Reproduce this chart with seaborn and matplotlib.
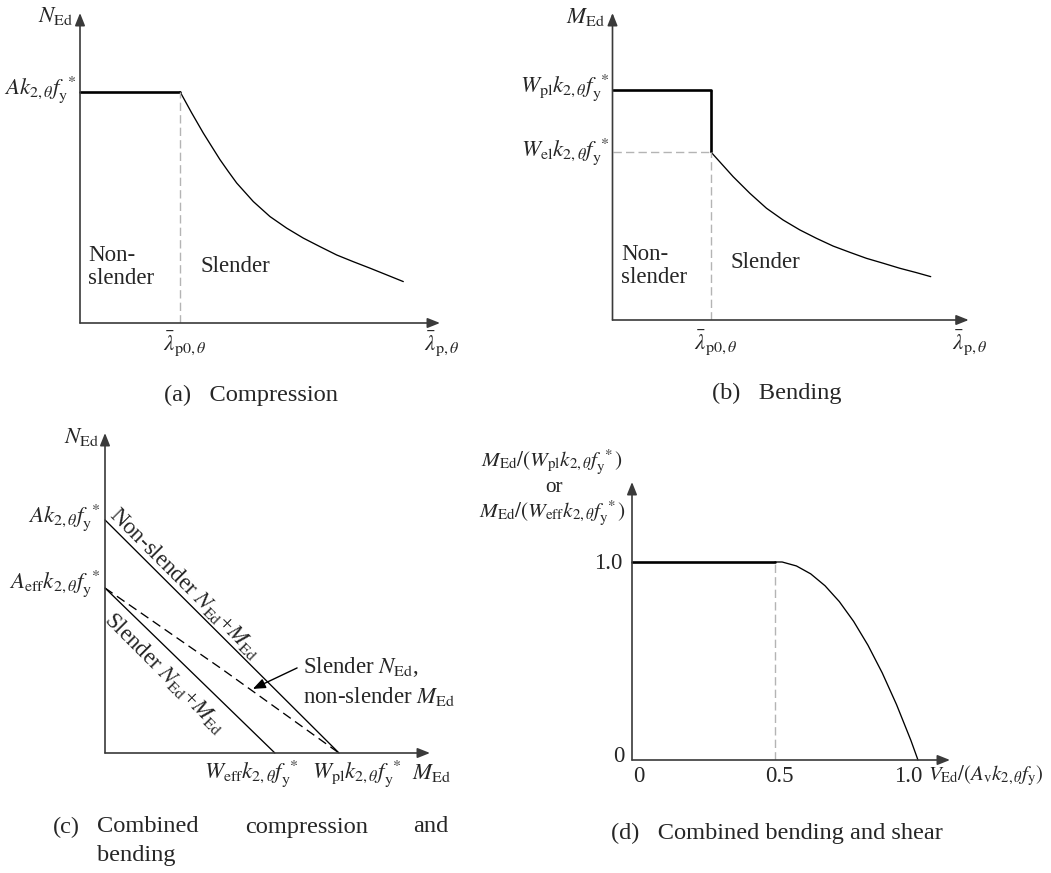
import matplotlib.pyplot as plt
import seaborn as sns

# --- values ---
# (a) compression: plateau up to lambda_p0, then slender curve
a_lam0 = 1.0
a_plateau = 1.0
a_curve_x = [1.0, 1.117, 1.233, 1.317, 1.40, 1.483, 1.567, 1.733, 1.90, 2.067,
             2.233, 2.40, 2.567, 2.733, 2.90, 3.067, 3.233]
a_curve_y = [1.0, 0.908, 0.821, 0.763, 0.706, 0.655, 0.605, 0.525, 0.460, 0.410,
             0.367, 0.330, 0.294, 0.265, 0.237, 0.208, 0.179]

# (b) bending: Wpl plateau, drop to Wel, then slender curve
b_lam0 = 1.0
b_wpl = 1.369
b_wel = 1.0
b_curve_x = [1.0, 1.226, 1.396, 1.565, 1.734, 1.904, 2.073, 2.242, 2.411, 2.581,
             2.750, 2.919, 3.088, 3.234]
b_curve_y = [1.0, 0.853, 0.754, 0.665, 0.595, 0.536, 0.486, 0.440, 0.403, 0.367,
             0.338, 0.308, 0.282, 0.258]

# (c) interaction lines (M axis, N axis)
c_full_m = [0.0, 1.0]
c_full_n = [1.0, 0.0]
c_slender_m = [0.0, 0.726]
c_slender_n = [0.708, 0.0]
c_mixed_m = [0.0, 0.5, 1.0]
c_mixed_n = [0.708, 0.36, 0.0]

# (d) bending + shear
d_v0 = 0.5
d_plateau = 1.0
d_curve_v = [0.5, 0.525, 0.55, 0.575, 0.6, 0.625, 0.65, 0.675, 0.7, 0.725, 0.75,
             0.775, 0.8, 0.825, 0.85, 0.875, 0.9, 0.925, 0.95, 0.975, 1.0]
d_curve_m = [1.0, 1.0, 0.99, 0.98, 0.96, 0.94, 0.91, 0.88, 0.84, 0.80, 0.75,
             0.70, 0.64, 0.58, 0.51, 0.44, 0.36, 0.28, 0.19, 0.10, 0.0]
d_xticks = [0, 0.5, 1.0]
d_xticklabels = ['0', '0.5', '1.0']
d_xtick_dx = [7, 4, -10]
d_yticks = [0, 1.0]
d_yticklabels = ['0', '1.0']

sns.set_theme(style="white")
plt.rcParams['font.family'] = ['Liberation Serif', 'DejaVu Serif']
plt.rcParams['mathtext.fontset'] = 'stix'
plt.rcParams['font.size'] = 16.5

W, H = 1051, 873
fig = plt.figure(figsize=(W / 100, H / 100), dpi=100)
fig.patch.set_facecolor('white')

THICK = 1.9
THIN = 0.95
GREY = '#b4b4b4'
AXC = '#3a3a3a'
CAP = 17.6
ARR = dict(arrowstyle='-|>,head_length=0.75,head_width=0.3', mutation_scale=10,
           shrinkA=0, shrinkB=0)


def ftext(x, y, s, **kw):
    fig.text(x / W, 1 - y / H, s, va='center', **kw)


def panel(ox, oy, x_end, y_top, xmax, ymax):
    ax = fig.add_axes([ox / W, 1 - oy / H, (x_end - ox) / W, (oy - y_top) / H])
    ax.set_xlim(0, xmax)
    ax.set_ylim(0, ymax)
    ax.axis('off')
    arr = dict(ARR, color=AXC, lw=1.2)
    ax.annotate('', xy=(xmax, 0), xytext=(0, 0), arrowprops=arr, annotation_clip=False)
    ax.annotate('', xy=(0, ymax), xytext=(0, 0), arrowprops=arr, annotation_clip=False)
    return ax


def label(ax, s, xy, dx, dy, ha='center', **kw):
    ax.annotate(s, xy=xy, xytext=(dx, dy), textcoords='offset pixels',
                ha=ha, va='center', annotation_clip=False, **kw)


def line(ax, x, y, lw, **kw):
    sns.lineplot(x=x, y=y, ax=ax, color='black', linewidth=lw,
                 estimator=None, sort=False, clip_on=False, **kw)


K = r'k_{2,\theta}'
FY = r'f_{\mathrm{y}}^{\ *}'
LAM0 = r'$\bar{\lambda}_{\mathrm{p0},\theta}$'
LAM = r'$\bar{\lambda}_{\mathrm{p},\theta}$'
DASH = (0, (6, 3))

# ---------------- (a) Compression ----------------
ax = panel(80, 323, 440, 13, 3.6, 1.34)
line(ax, [0, a_lam0], [a_plateau, a_plateau], THICK)
line(ax, a_curve_x, a_curve_y, THIN)
ax.vlines(a_lam0, 0, a_plateau, colors=GREY, linestyles=DASH, lw=1.0)
label(ax, r'$N_{\mathrm{Ed}}$', (0, 1.34), -7, -3, ha='right')
label(ax, r'$A' + K + FY + '$', (0, a_plateau), -4, 3, ha='right')
label(ax, LAM0, (a_lam0, 0), 5, -21)
label(ax, LAM, (3.6, 0), 2, -21)
ftext(88, 267, 'Non-\nslender', ha='left', linespacing=1.1)
ftext(200, 267, 'Slender', ha='left')
ftext(251, 395, '(a)   Compression', ha='center', fontsize=CAP)

# ---------------- (b) Bending ----------------
ax = panel(612.5, 320, 968.7, 13, 3.62, 1.827)
line(ax, [0, b_lam0], [b_wpl, b_wpl], THICK)
ax.vlines(b_lam0, b_wel, b_wpl, colors='black', lw=THICK)
line(ax, b_curve_x, b_curve_y, THIN)
ax.vlines(b_lam0, 0, b_wel, colors=GREY, linestyles=DASH, lw=1.0)
ax.hlines(b_wel, 0, b_lam0, colors=GREY, linestyles=DASH, lw=1.0)
label(ax, r'$M_{\mathrm{Ed}}$', (0, 1.827), -8, -4, ha='right')
label(ax, r'$W_{\mathrm{pl}}' + K + FY + '$', (0, b_wpl), -3, 3, ha='right')
label(ax, r'$W_{\mathrm{el}}' + K + FY + '$', (0, b_wel), -3, 1, ha='right')
label(ax, LAM0, (b_lam0, 0), 5, -23)
label(ax, LAM, (3.62, 0), 1, -23)
ftext(621, 266, 'Non-\nslender', ha='left', linespacing=1.1)
ftext(730, 263, 'Slender', ha='left')
ftext(777, 393, '(b)   Bending', ha='center', fontsize=CAP)

# ---------------- (c) Combined compression and bending ----------------
ax = panel(105, 753, 430, 433, 1.389, 1.373)
line(ax, c_full_m, c_full_n, THIN)
line(ax, c_slender_m, c_slender_n, THIN)
line(ax, c_mixed_m, c_mixed_n, THIN, linestyle=(0, (7, 4)))
label(ax, r'$N_{\mathrm{Ed}}$', (0, 1.373), -6, -4, ha='right')
label(ax, r'$A' + K + FY + '$', (0, c_full_n[0]), -5, 3, ha='right')
label(ax, r'$A_{\mathrm{eff}}' + K + FY + '$', (0, c_slender_n[0]), -5, 5, ha='right')
label(ax, r'$W_{\mathrm{eff}}' + K + FY + '$', (c_slender_m[1], 0), -23, -20)
label(ax, r'$W_{\mathrm{pl}}' + K + FY + '$', (c_full_m[1], 0), 18, -20)
label(ax, r'$M_{\mathrm{Ed}}$', (1.389, 0), 1, -20)
ax.text(0.342, 0.73, r'Non-slender $N_{\mathrm{Ed}}$+$M_{\mathrm{Ed}}$', rotation=-45,
        ha='center', va='center')
ax.text(0.256, 0.343, r'Slender $N_{\mathrm{Ed}}$+$M_{\mathrm{Ed}}$', rotation=-45,
        ha='center', va='center')
ax.annotate('', xy=(0.632, 0.275), xytext=(0.821, 0.365),
            arrowprops=dict(ARR, color='black', lw=1.0))
ftext(303, 667, r'Slender $N_{\mathrm{Ed}}$,', ha='left')
ftext(303, 696, r'non-slender $M_{\mathrm{Ed}}$', ha='left')
ftext(53, 827, '(c)', ha='left', fontsize=CAP)
ftext(97, 827, 'Combined', ha='left', fontsize=CAP)
ftext(245, 827, 'compression', ha='left', fontsize=CAP)
ftext(448, 827, 'and', ha='right', fontsize=CAP)
ftext(97, 856, 'bending', ha='left', fontsize=CAP)

# ---------------- (d) Combined bending and shear ----------------
ax = panel(632, 760, 950, 482, 1.112, 1.404)
line(ax, [0, d_v0], [d_plateau, d_plateau], THICK)
line(ax, d_curve_v, d_curve_m, THIN)
ax.vlines(d_v0, 0, d_plateau, colors=GREY, linestyles=DASH, lw=1.0)
for v, s, dx in zip(d_xticks, d_xticklabels, d_xtick_dx):
    label(ax, s, (v, 0), dx, -16)
for v, s in zip(d_yticks, d_yticklabels):
    label(ax, s, (0, v), -8 if v == 0 else -10, 3 if v == 0 else -2, ha='right')
label(ax, r'$V_{\mathrm{Ed}}/(A_{\mathrm{v}}' + K + r'f_{\mathrm{y}})$', (1.112, 0),
      -22, -16, ha='left', fontsize=15)
label(ax, r'$M_{\mathrm{Ed}}/(W_{\mathrm{pl}}' + K + FY + ')$', (0, 1.404), -80, 20,
      fontsize=15.3)
label(ax, 'or', (0, 1.404), -78, -5, fontsize=15.3)
label(ax, r'$M_{\mathrm{Ed}}/(W_{\mathrm{eff}}' + K + FY + ')$', (0, 1.404), -80, -31,
      fontsize=15.3)
ftext(611, 833, '(d)   Combined bending and shear', ha='left', fontsize=CAP)

fig.savefig('out.png', dpi=100, facecolor='white')
